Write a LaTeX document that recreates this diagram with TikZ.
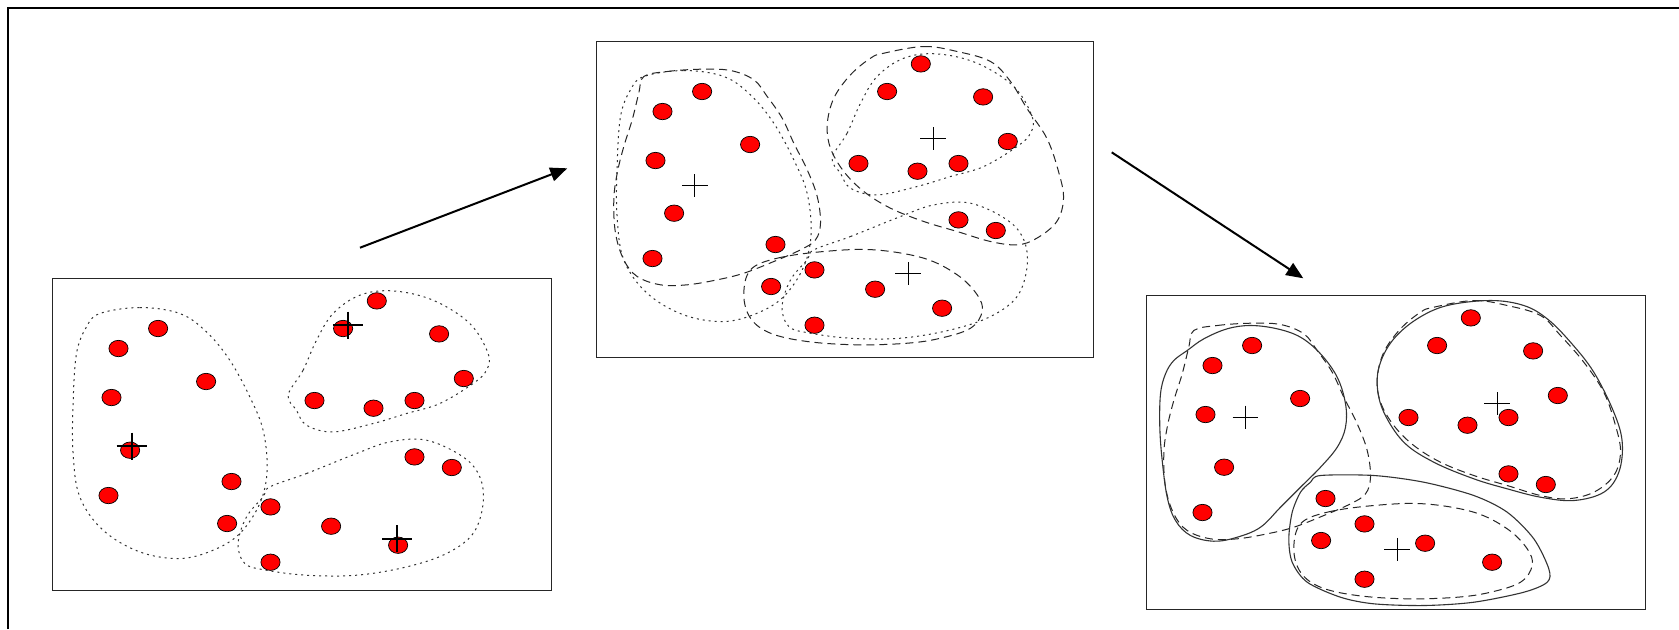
\documentclass[tikz,border=0pt]{standalone}
\usetikzlibrary{arrows.meta,shapes.geometric}
\tikzset{
  dot/.style={ellipse, draw=black, line width=0.35pt, fill=red, minimum width=9.6pt, minimum height=8.2pt, inner sep=0pt},
  panelbox/.style={draw=black!85, line width=0.5pt},
  oldline/.style={draw=black!80, line width=0.5pt, dash pattern=on 1pt off 2pt},
  midline/.style={draw=black!85, line width=0.5pt, dash pattern=on 4pt off 2.5pt},
  newline/.style={draw=black!80, line width=0.55pt},
  bigcross/.style={line width=1pt},
  smallcross/.style={line width=0.5pt},
  flow/.style={line width=1pt, -{Triangle[length=8.5pt,width=7pt]}},
}
\newcommand\drawDots[1]{%
  \foreach \px/\py [count=\i] in {105.6/50, 66/70, 153.6/103, 59/119, 77.6/171.7, 179/203, 56/217,
      174.6/245, 218/228.4, 278.6/247.7, 218/283.7, 345.6/266.7, 362/178.4, 399.3/189,
      324.3/22.4, 290.6/50, 386.6/55.4, 411.3/100, 262/122, 321/129.7, 362/122}
    {\node[dot] (#1\i) at (\px,\py) {};}}
\newcommand\drawOldOutlines{%
  \draw[oldline] plot[smooth cycle, tension=0.6] coordinates {(47.3,35) (87.3,29) (127.3,35) (154,53.4) (177.3,81.7) (197.3,118.4) (210.6,151.7) (214.6,191.7) (207.3,225) (187.3,255) (160.6,271.7) (127.3,280) (87.3,273.4) (50.6,251.7) (27.3,218.4) (20.6,175) (20.6,125) (24,75) (34,48.4)};
  \draw[oldline] plot[smooth cycle, tension=0.6] coordinates {(235.6,116.7) (250.6,91.7) (264,61.7) (280.6,35) (307.3,16.7) (340.6,12.4) (380.6,21.7) (417.3,45) (435.6,75) (434,91.7) (420.6,105) (387.3,125) (354,135) (320.6,145) (280.6,153.4) (254,146.7) (244,131.7)};
  \draw[oldline] plot[smooth cycle, tension=0.6] coordinates {(217.3,208.4) (254,195) (304,175) (337.3,163.4) (374,161.7) (410.6,178.4) (427.3,198.4) (430.6,225) (420.6,255) (394,275) (354,288.4) (304,296.7) (254,296.7) (214,291.7) (192.3,285) (185.6,265) (194,238.4) (210.6,218.4)};
}
\newcommand\drawMidOutlines[1]{% #1: horizontal squeeze of the right cluster
  \draw[midline] plot[smooth cycle, tension=0.6] coordinates {(47.3,35) (70.7,30) (104,27.7) (134,29) (157.3,38.3) (170.7,55) (185.7,76.7) (197.3,101.7) (210.7,128.3) (220.7,155) (224,181.7) (219,198.3) (204,208.3) (177.3,220) (147.3,231.7) (120.7,238.3) (90.7,243.3) (64,243.3) (40.7,235) (27.3,218.3) (19,191.7) (17.3,158.3) (20.7,131.7) (27.3,105) (35.7,78.3) (42.3,51.7)};
  \draw[midline] plot[smooth cycle, tension=0.6] coordinates {(287.3,11.7) (327.3,5) (360.7,10) (394,20) (414,40) (437.3-#1,66.7) (457.3-#1,96.7) (469-#1,130) (474-#1,156.7) (467.3-#1,180) (447.3-#1,196.7) (420.7,203.3) (394,200) (360.7,190) (327.3,180) (294,166.7) (267.3,150) (247.3,130) (234,106.7) (230.7,83.3) (237.3,56.7) (254,33.3) (274,16.7)};
  \draw[midline] plot[smooth cycle, tension=0.6] coordinates {(154,228.3) (180.7,216.7) (227.3,210) (277.3,208.3) (327.3,216.7) (360.7,233.3) (380.7,253.3) (385.7,270) (374,286.7) (344,296.7) (310.7,301.7) (260.7,303.3) (210.7,300) (174,291.7) (154,276.7) (147.3,253.3)};
}
\newcommand\drawNewOutlines{%
  \draw[newline] plot[smooth cycle, tension=0.6] coordinates {(27.3,65) (40.7,55) (57.3,43.3) (80.7,33.3) (104,30) (130.7,33.3) (154,41.7) (174,58.3) (190.7,81.7) (199,108.3) (199,131.7) (190.7,151.7) (174,171.7) (154,191.7) (134,211.7) (114,231.7) (90.7,241.7) (67.3,245.7) (44,240) (29,225) (20.7,201.7) (15.7,165) (13.3,131.7) (14,98.3) (19,78.3)};
  \draw[newline] plot[smooth cycle, tension=0.6] coordinates {(234,66.7) (247.3,43.3) (270.7,23.3) (300.7,10) (344,5) (377.3,10) (400.7,23.3) (424,46.7) (447.3,76.7) (467.3,116.7) (475.7,146.7) (472.3,176.7) (457.3,196.7) (427.3,205) (394,201.7) (360.7,193.3) (327.3,183.3) (287.3,166.7) (257.3,146.7) (237.3,116.7) (230.7,90)};
  \draw[newline] plot[smooth cycle, tension=0.5] coordinates {(174,180) (227.3,180) (277.3,186.7) (327.3,200) (360.7,216.7) (387.3,243.3) (402.3,273.3) (400.7,286.7) (377.3,296.7) (327.3,306.7) (277.3,310) (227.3,308.3) (194,301.7) (160.7,286.7) (145.7,266.7) (142.3,243.3) (145.7,216.7) (154,196.7) (164,186.7)};
}
\newcommand\crossAt[4]{% style, x, y, half size
  \draw[#1] (#2,#3) ++(-#4,0) -- ++(2*#4,0) (#2,#3) ++(0,-#4*0.9) -- ++(0,1.8*#4);}
\begin{document}
\begin{tikzpicture}[x=0.5pt,y=-0.5pt]
  \useasboundingbox (0,0) rectangle (1679,629);
  \fill[white] (0,0) rectangle (1679,629);
  % outer frame (only top and left edges visible)
  \draw[line width=1pt, black] (7.5,629) -- (7.5,7.5) -- (1679,7.5);

  % panel 1
  \begin{scope}[shift={(52.5,278.5)}]
    \draw[panelbox] (0,0) rectangle (499,312);
    \drawOldOutlines
    \drawDots{pa}
    \crossAt{bigcross}{79}{167.7}{15}
    \crossAt{bigcross}{295.3}{46.7}{15}
    \crossAt{bigcross}{344.6}{260.4}{15}
  \end{scope}

  % panel 2
  \begin{scope}[shift={(596.5,41.5)}]
    \draw[panelbox] (0,0) rectangle (497,316);
    \drawOldOutlines
    \drawMidOutlines{7}
    \drawDots{pb}
    \crossAt{smallcross}{98.3}{144.3}{12.8}
    \crossAt{smallcross}{336.6}{97.3}{12.8}
    \crossAt{smallcross}{311.6}{232.3}{12.8}
  \end{scope}

  % panel 3
  \begin{scope}[shift={(1146.5,295.5)}]
    \draw[panelbox] (0,0) rectangle (499,314);
    \drawMidOutlines{0}
    \drawNewOutlines
    \drawDots{pc}
    \crossAt{smallcross}{99}{121.7}{12.8}
    \crossAt{smallcross}{350.7}{108.3}{12.8}
    \crossAt{smallcross}{250.7}{254}{12.8}
  \end{scope}

  % arrows
  \coordinate (a1s) at (360,247.7);
  \coordinate (a1e) at (567.3,168.3);
  \coordinate (a2s) at (1111.7,152.3);
  \coordinate (a2e) at (1303.3,278.3);
  \draw[flow] (a1s) -- (a1e);
  \draw[flow] (a2s) -- (a2e);
\end{tikzpicture}
\end{document}
